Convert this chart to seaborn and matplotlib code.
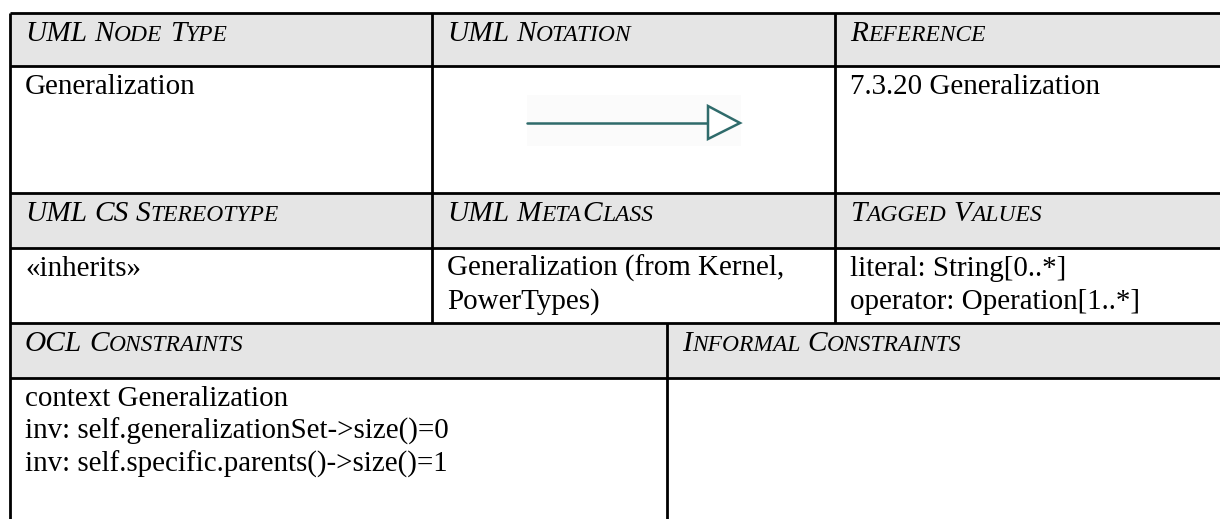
import matplotlib
matplotlib.use("Agg")
import matplotlib.pyplot as plt
from matplotlib.patches import Rectangle, Polygon
from matplotlib.font_manager import FontProperties, findfont
from matplotlib.ft2font import FT2Font
import seaborn as sns

# cell texts
top_headers = ["UML Node Type", "UML Notation", "Reference"]
top_values = [["Generalization"], [], ["7.3.20 Generalization"]]
mid_headers = ["UML CS Stereotype", "UML MetaClass", "Tagged Values"]
mid_values = [
    ["«inherits»"],
    ["Generalization (from Kernel,", "PowerTypes)"],
    ["literal: String[0..*]", "operator: Operation[1..*]"],
]
low_headers = ["OCL Constraints", "Informal Constraints"]
low_values = [
    ["context Generalization",
     "inv: self.generalizationSet->size()=0",
     "inv: self.specific.parents()->size()=1"],
    [],
]

# layout in pixels
W, H = 1220, 519
LEFT, RIGHT = 10, 1235
ROWS = [13, 66, 193, 248, 323, 378, 540]
COLS_TOP = [10, 432, 835]
COLS_LOW = [10, 667]
PAD_X = 15
BASE_OFF = 28
LINE_GAP = 33
BODY_SIZE = 20.9
CAP_SIZE = 21.2
SMALL_SIZE = 16.9
HEADER_BG = "#e5e5e5"
LINE_W = 2.0
ARROW_COLOR = "#2f6b6b"
FAMILY = "Liberation Serif"

sns.set_theme(style="white")
plt.rcParams["font.family"] = [FAMILY, "DejaVu Serif"]

italic_font = FT2Font(findfont(FontProperties(family=FAMILY, style="italic")))


def advance(s, size):
    italic_font.set_size(size, 100)
    return sum(italic_font.load_char(ord(c)).linearHoriAdvance for c in s) / 65536


def small_caps(ax, x, y, label):
    # capitals at full size, lower case drawn as smaller capitals
    for i, word in enumerate(label.split(" ")):
        if i:
            x += advance(" ", CAP_SIZE)
        runs = []
        for ch in word:
            if runs and runs[-1][0] == ch.isupper():
                runs[-1][1] += ch
            else:
                runs.append([ch.isupper(), ch])
        for is_cap, run in runs:
            size = CAP_SIZE if is_cap else SMALL_SIZE
            ax.text(x, y, run.upper(), fontsize=size, style="italic",
                    va="baseline", ha="left", color="black")
            x += advance(run.upper(), size)


def body(ax, x, y, lines):
    for i, line in enumerate(lines):
        ax.text(x, y + i * LINE_GAP, line, fontsize=BODY_SIZE,
                va="baseline", ha="left", color="black")


fig = plt.figure(figsize=(W / 100, H / 100), dpi=100)
ax = fig.add_axes([0, 0, 1, 1])
ax.set_xlim(0, W)
ax.set_ylim(H, 0)
ax.axis("off")

# header backgrounds
for r in (0, 2, 4):
    ax.add_patch(Rectangle((LEFT, ROWS[r]), RIGHT - LEFT, ROWS[r + 1] - ROWS[r],
                           facecolor=HEADER_BG, edgecolor="none", zorder=0))

# grid lines
ax.hlines(ROWS[:6], LEFT, RIGHT, colors="black", lw=LINE_W, zorder=3)
ax.vlines(LEFT, ROWS[0], H + 5, colors="black", lw=LINE_W, zorder=3)
ax.vlines(COLS_TOP[1:], ROWS[0], ROWS[4], colors="black", lw=LINE_W, zorder=3)
ax.vlines(COLS_LOW[1:], ROWS[4], H + 5, colors="black", lw=LINE_W, zorder=3)

# texts
for c, x in enumerate(COLS_TOP):
    small_caps(ax, x + PAD_X, ROWS[0] + BASE_OFF, top_headers[c])
    body(ax, x + PAD_X, ROWS[1] + BASE_OFF, top_values[c])
    small_caps(ax, x + PAD_X, ROWS[2] + BASE_OFF, mid_headers[c])
    body(ax, x + PAD_X, ROWS[3] + BASE_OFF, mid_values[c])
for c, x in enumerate(COLS_LOW):
    small_caps(ax, x + PAD_X, ROWS[4] + BASE_OFF, low_headers[c])
    body(ax, x + PAD_X, ROWS[5] + BASE_OFF, low_values[c])

# generalization notation: open triangle arrow
ax.add_patch(Rectangle((527, 95), 214, 51, facecolor="#fbfbfb",
                       edgecolor="none", zorder=1))
ax.plot([527, 708], [123, 123], color=ARROW_COLOR, lw=1.8, zorder=2)
ax.add_patch(Polygon([[708, 106], [708, 139], [740, 123]], closed=True,
                     facecolor="white", edgecolor=ARROW_COLOR, lw=1.8, zorder=2))

fig.savefig("out.png", dpi=100)
